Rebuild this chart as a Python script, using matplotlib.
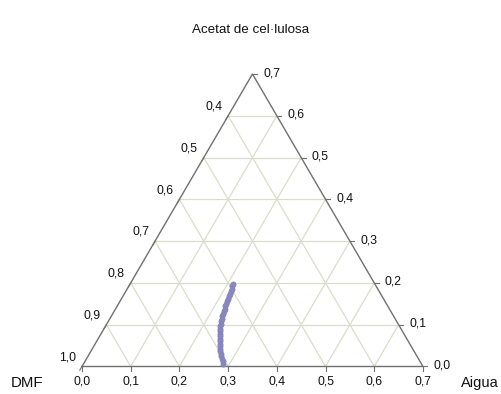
import numpy as np
import matplotlib
matplotlib.use("Agg")
import matplotlib.pyplot as plt

plt.rcParams['font.family'] = ['Liberation Sans', 'DejaVu Sans']

# Ternary composition (mass fractions); DMF = 1 - Aigua - Acetat
title = "Acetat de cel·lulosa"
left_label = "DMF"
right_label = "Aigua"
aigua = [0.287, 0.283, 0.279, 0.274, 0.270, 0.266, 0.262, 0.259, 0.256, 0.253,
         0.250, 0.247, 0.244, 0.241, 0.239, 0.236, 0.234, 0.232, 0.230, 0.228,
         0.227, 0.225, 0.224, 0.222, 0.221, 0.220, 0.219, 0.218, 0.217, 0.215,
         0.214, 0.212, 0.211]
acetat = [0.006, 0.012, 0.018, 0.024, 0.030, 0.036, 0.042, 0.048, 0.054, 0.060,
          0.066, 0.072, 0.078, 0.084, 0.090, 0.096, 0.102, 0.108, 0.114, 0.120,
          0.126, 0.132, 0.138, 0.144, 0.150, 0.156, 0.162, 0.168, 0.174, 0.180,
          0.186, 0.192, 0.198]
bottom_ticks = [0.0, 0.1, 0.2, 0.3, 0.4, 0.5, 0.6, 0.7]      # Aigua
left_ticks = [1.0, 0.9, 0.8, 0.7, 0.6, 0.5, 0.4]              # DMF
right_ticks = [0.0, 0.1, 0.2, 0.3, 0.4, 0.5, 0.6, 0.7]        # Acetat

SIDE = 0.7
H = np.sqrt(3) / 2


def xy(ag, ac):
    ag = np.asarray(ag, float)
    ac = np.asarray(ac, float)
    return ag + ac / 2, ac * H


def fmt(v):
    return f"{v:.1f}".replace(".", ",")


fig = plt.figure(figsize=(5.01, 3.94), dpi=100)
ax = fig.add_axes([0, 0, 1, 1])
ax.set_xlim(-0.1683, 0.8602)
ax.set_ylim(-0.0570, 0.7596)
ax.axis('off')

grid_c = '#dcdccc'
edge_c = '#707070'
text_c = '#111111'

for k in np.arange(1, 7) / 10:
    # constant Acetat (horizontal)
    x, y = xy([0, SIDE - k], [k, k])
    ax.plot(x, y, color=grid_c, lw=0.9, zorder=1)
    # constant Aigua
    x, y = xy([k, k], [0, SIDE - k])
    ax.plot(x, y, color=grid_c, lw=0.9, zorder=1)
    # constant DMF
    x, y = xy([k, 0], [0, k])
    ax.plot(x, y, color=grid_c, lw=0.9, zorder=1)

# Triangle border
x, y = xy([0, SIDE, 0, 0], [0, 0, SIDE, 0])
ax.plot(x, y, color=edge_c, lw=1.0, zorder=2)

tl = 0.009
fs = 8.8
# Bottom axis (Aigua)
for v in bottom_ticks:
    x, y = xy(v, 0)
    ax.plot([x, x], [y, y - tl], color=edge_c, lw=0.8)
    ax.text(x, y - 0.032, fmt(v), ha='center', va='center', fontsize=fs, color=text_c)

# Left axis (DMF)
for v in left_ticks:
    ac = round(1.0 - v, 2)
    x, y = xy(0, ac)
    ax.plot([x, x - tl * 0.5], [y, y - tl * H], color=edge_c, lw=0.8)
    ax.text(x - 0.012, y + 0.019, fmt(v), ha='right', va='center', fontsize=fs, color=text_c)

# Right axis (Acetat)
for v in right_ticks:
    x, y = xy(SIDE - v, v)
    ax.plot([x, x + tl], [y, y], color=edge_c, lw=0.8)
    ax.text(x + 0.022, y + 0.002, fmt(v), ha='left', va='center', fontsize=fs, color=text_c)

# Measured compositions
px, py = xy(aigua, acetat)
ax.plot(px, py, 'o', ms=3.8, color='#8a8abf', mec='#8080b8', mew=0.4, zorder=3)

ax.text(0.5, 1 - 30 / 394, title, transform=ax.transAxes, ha='center', va='center',
        fontsize=9.6, color=text_c)
ax.text(27 / 501, 1 - 383 / 394, left_label, transform=ax.transAxes, ha='center',
        va='center', fontsize=10.8, color=text_c)
ax.text(461 / 501, 1 - 383 / 394, right_label, transform=ax.transAxes, ha='left',
        va='center', fontsize=10.5, color=text_c)

fig.savefig('out.png', dpi=100)
